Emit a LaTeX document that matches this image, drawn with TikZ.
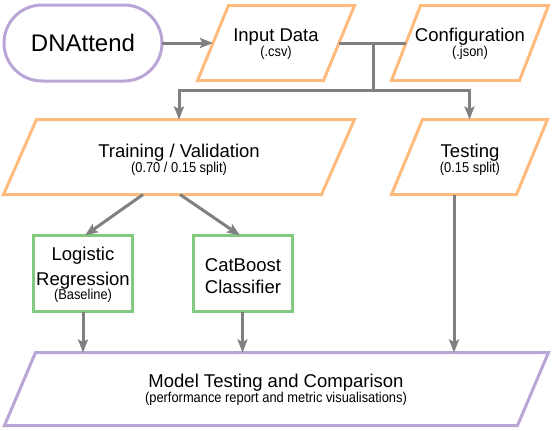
\documentclass[tikz,border=0pt]{standalone}
\usepackage{fontspec}
\setmainfont{Liberation Sans}
\newfontfamily\narrowfont[FakeStretch=0.9]{Liberation Sans}
\usetikzlibrary{arrows.meta,calc}
\definecolor{cpurple}{RGB}{185,165,214}
\definecolor{corange}{RGB}{255,186,125}
\definecolor{cgreen}{RGB}{130,202,130}
\definecolor{cgray}{RGB}{128,128,128}
\newcommand\bigfs{\fontsize{18.5}{15}\selectfont}
\newcommand\smallfs{\narrowfont\fontsize{14.3}{15}\selectfont}
\newcommand\pgramdraw[3]{\draw[pgram,draw=#3] ([xshift=#2]#1.north west) -- (#1.north east) -- ([xshift=-#2]#1.south east) -- (#1.south west) -- cycle;}
\begin{document}
\begin{tikzpicture}[x=1pt,y=-1pt,
  frame/.style={rectangle,inner sep=0pt,outer sep=0pt},
  pgram/.style={line width=3pt,line join=miter},
  boxline/.style={draw=#1,line width=3pt},
  txt/.style={align=center,font=\bigfs,inner sep=0pt,text=black},
  conn/.style={draw=cgray,line width=3pt},
  arr/.style={conn,-{Stealth[length=13pt,width=10pt,inset=2.5pt]}}]
\useasboundingbox (0,0) rectangle (552,431);

% start
\node[frame,boxline=cpurple,rounded corners=38pt,minimum width=158pt,minimum height=76pt,
      font=\fontsize{24}{28}\selectfont] (dna) at (83,43) {DNAttend};

% parallelogram frames
\node[frame,minimum width=157pt,minimum height=75pt] (inp) at (276,43) {};
\node[frame,minimum width=157pt,minimum height=75pt] (cfg) at (470,43) {};
\node[frame,minimum width=351pt,minimum height=75pt] (trn) at (179,157) {};
\node[frame,minimum width=156pt,minimum height=75pt] (tst) at (469.5,157) {};
\node[frame,minimum width=544pt,minimum height=73pt] (mdl) at (276.5,389) {};
\pgramdraw{inp}{31pt}{corange}
\pgramdraw{cfg}{29pt}{corange}
\pgramdraw{trn}{33pt}{corange}
\pgramdraw{tst}{31pt}{corange}
\pgramdraw{mdl}{31pt}{cpurple}

% model boxes
\node[frame,boxline=cgreen,minimum width=99pt,minimum height=76pt] (log) at (83,273.5) {};
\node[frame,boxline=cgreen,minimum width=99pt,minimum height=76pt] (cat) at (242.5,273.5) {};

% texts
\node[txt] (inp-t) at (276,44) {Input Data\\{\smallfs (.csv)}};
\node[txt] (cfg-t) at (470,44) {Configuration\\{\smallfs (.json)}};
\node[txt] (trn-t) at (179,160) {Training / Validation\\{\smallfs (0.70 / 0.15 split)}};
\node[txt] (tst-t) at (470,160) {Testing\\{\smallfs (0.15 split)}};
\node[txt] (log-t) at (83,275) {Logistic\\[6pt]Regression\\[-0.5pt]{\smallfs (Baseline)}};
\node[txt] (cat-t) at (243,276) {CatBoost\\[7pt]Classifier};
\node[txt] (mdl-t) at (276,390) {Model Testing and Comparison\\{\smallfs (performance report and metric visualisations)}};

% connectors
\draw[arr] (dna.east) -- ([xshift=15.5pt]inp.west);
\coordinate (j) at (373,43);
\coordinate (split) at (373,90);
\draw[conn] ([xshift=-15.5pt]inp.east) -- ([xshift=14.5pt]cfg.west);
\draw[conn] (j) -- (split);
\draw[arr] (split) -| (trn.north);
\draw[arr] (split) -| (tst.north);
\draw[arr] ([xshift=-36pt]trn.south) -- ([xshift=2pt]log.north);
\draw[arr] ([xshift=1pt]trn.south) -- ([xshift=-2.5pt]cat.north);
\draw[arr] (log.south) -- (log.south |- mdl.north);
\draw[arr] (cat.south) -- (cat.south |- mdl.north);
\coordinate (tb) at ([xshift=-15.5pt]tst.south);
\draw[arr] (tb) -- (tb |- mdl.north);
\end{tikzpicture}
\end{document}
